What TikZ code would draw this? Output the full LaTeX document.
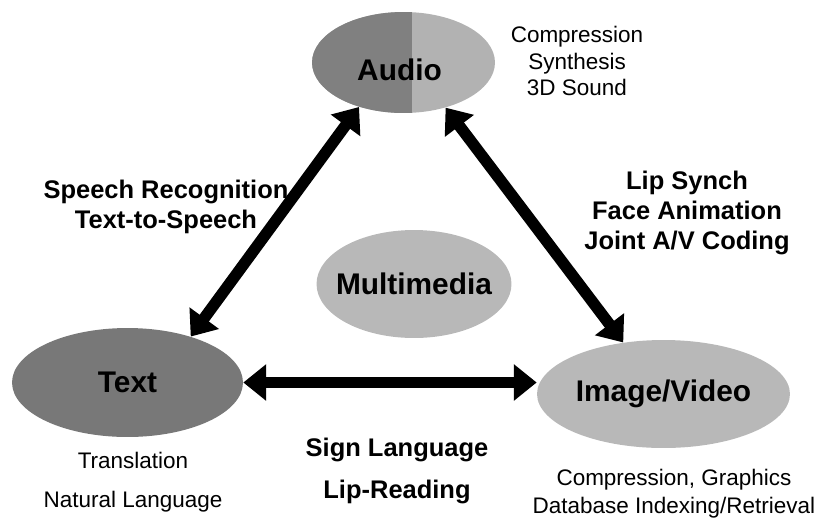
\documentclass[tikz,border=0pt]{standalone}
\usepackage{fontspec}
\setmainfont{Liberation Sans}
\usetikzlibrary{shapes.geometric,arrows.meta}
\definecolor{audiodark}{gray}{0.50}
\definecolor{audiolight}{gray}{0.70}
\definecolor{textgray}{gray}{0.47}
\definecolor{lightgray}{gray}{0.72}
\tikzset{
  medium/.style={ellipse,inner sep=0pt},
  bigname/.style={font=\fontsize{17}{20}\selectfont\bfseries},
  linklabel/.style={font=\fontsize{14.5}{17}\selectfont\bfseries},
  note/.style={font=\fontsize{12.8}{15.3}\selectfont,align=center},
  link/.style={line width=6.5pt,{Triangle[length=13pt,width=20pt]}-{Triangle[length=13pt,width=20pt]}}
}
\begin{document}
\begin{tikzpicture}[x=0.02cm,y=-0.02cm]
\useasboundingbox (0,0) rectangle (825,525);
% the four media
\node[medium,fill=audiolight,minimum width=3.66cm,minimum height=2.02cm,
  path picture={\fill[audiodark] (path picture bounding box.south west)
    rectangle ([xshift=0.16cm]path picture bounding box.north);},
  label={[bigname,xshift=-0.08cm,yshift=-0.14cm]center:Audio}] (audio) at (403.5,62.5) {};
\node[medium,fill=lightgray,minimum width=3.9cm,minimum height=2.16cm,
  label={[bigname]center:Multimedia}] (multimedia) at (414,284) {};
\node[medium,fill=textgray,minimum width=4.62cm,minimum height=2.18cm,
  label={[bigname]center:Text}] (text) at (127.5,382.5) {};
\node[medium,fill=lightgray,minimum width=5.06cm,minimum height=2.16cm,
  label={[bigname]center:Image/Video}] (image) at (663.5,394) {};
% links
\draw[link] (text.36) -- (audio.-135);
\draw[link] (audio.-47) -- (image.128);
\draw[link] (text.east) -- (text.east -| image.west);
\node[linklabel,align=center] (speechlbl) at (166,207) {Speech Recognition\\Text-to-Speech};
\node[linklabel,align=center] (lipsynchlbl) at (687,213) {Lip Synch\\Face Animation\\Joint A/V Coding};
\node[linklabel,align=center] (signlbl) at (397,471) {Sign Language\\[7pt]Lip-Reading};
% notes
\node[note] (audionote) at (577,61) {Compression\\Synthesis\\3D Sound};
\node[note] (textnote) at (133,482) {Translation\\[7pt]Natural Language};
\node[note] (imagenote) at (674,494) {Compression, Graphics\\[0.6pt]Database Indexing/Retrieval};
\end{tikzpicture}
\end{document}
